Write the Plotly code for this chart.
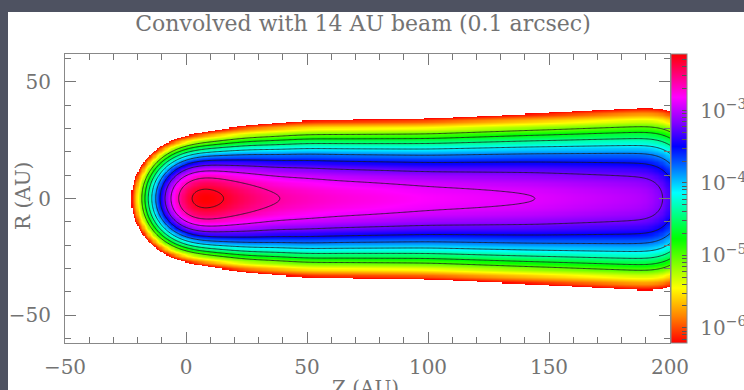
import numpy as np
import plotly.graph_objects as go

# ---- values ----
# on-axis (R=0) log10 intensity of the jet model before beam smoothing along Z
source_z = [0, 5, 10, 20, 36, 60, 100, 144, 190, 200]
source_log_axis = [-2.05, -2.11, -2.21, -2.40, -2.60, -2.72, -2.83, -2.90, -3.03, -3.08]
# intrinsic gaussian width (AU) of the jet across R, along Z
width_z = [0, 10, 25, 50, 100, 150, 200]
source_width = [2.0, 3.2, 4.8, 5.9, 6.4, 7.4, 8.6]
beam_fwhm = 14.0  # AU (0.1 arcsec)

# contour levels: factor-of-2 steps below 5e-3
contour_top = 5e-3
contour_factor = 2.0
n_contours = 10

# colour-bar (log10 intensity) range and labels
log_range = [-6.21, -2.22]
cbar_decades = [-6, -5, -4, -3]
cbar_labels = ["10<sup>−6</sup>", "10<sup>−5</sup>", "10<sup>−4</sup>", "10<sup>−3</sup>"]

x_ticks = [-50, 0, 50, 100, 150, 200]
y_ticks = [-50, 0, 50]
title_text = "Convolved with 14 AU beam (0.1 arcsec)"

# ---- build the convolved map ----
sb = beam_fwhm / (2.0 * np.sqrt(2.0 * np.log(2.0)))
dzs = 0.25
zs = np.arange(0, 200 + 1e-9, dzs)
B = 10 ** np.interp(zs, source_z, source_log_axis)
w = np.interp(zs, width_z, source_width)
sR = np.sqrt(w ** 2 + sb ** 2)
zg = np.arange(-50, 200 + 1e-9, 0.5)
Rg = np.arange(-62, 62 + 1e-9, 0.5)
F = B[:, None] * np.exp(-Rg[None, :] ** 2 / (2 * sR[:, None] ** 2))
K = np.exp(-(zg[:, None] - zs[None, :]) ** 2 / (2 * sb ** 2)) / (np.sqrt(2 * np.pi) * sb) * dzs
I = K @ F
L = np.log10(np.maximum(I, 1e-30)).T  # rows: R, cols: Z
Lmask = np.where(L >= log_range[0], L, np.nan)

levels = [np.log10(contour_top / contour_factor ** k) for k in range(n_contours)]

colorscale = [
    [0.0, "#ff0000"], [0.09, "#ff8000"], [0.19, "#ffff00"], [0.36, "#00ff00"],
    [0.52, "#00ffff"], [0.68, "#0000ff"], [0.76, "#8000ff"], [0.85, "#ff00ff"],
    [1.0, "#ff0000"],
]

pad = "\u00a0\u200a"
cb_vals = []
cb_text = []
for d, lab in zip(cbar_decades, cbar_labels):
    cb_vals.append(d); cb_text.append(pad + lab)
for d in range(-7, -1):
    for m in range(2, 10):
        v = d + np.log10(m)
        if log_range[0] <= v <= log_range[1]:
            cb_vals.append(v); cb_text.append("")

font_family = "DejaVu Serif"
txt_col = "#737373"

fig = go.Figure()
fig.add_trace(go.Heatmap(
    x=zg, y=Rg, z=Lmask, zmin=log_range[0], zmax=log_range[1],
    colorscale=colorscale, zsmooth="best", hoverinfo="skip",
    colorbar=dict(
        x=1.0017, xanchor="left", xpad=0, ypad=0, y=0.5, yanchor="middle",
        len=1, lenmode="fraction", thickness=16,
        outlinecolor="#888", outlinewidth=1,
        tickvals=cb_vals, ticktext=cb_text, ticks="inside", ticklen=5,
        tickcolor="#555", tickwidth=1,
        tickfont=dict(family=font_family, size=20, color=txt_col),
    ),
))
fig.add_trace(go.Contour(
    x=zg, y=Rg, z=L, showscale=False, hoverinfo="skip",
    contours=dict(start=levels[-1] - 1e-6, end=levels[0] + 1e-6,
                  size=np.log10(contour_factor), coloring="none"),
    line=dict(color="#1a1a1a", width=0.8),
))

axis_common = dict(
    ticks="inside", ticklen=11, tickcolor="#777", tickwidth=1,
    showline=True, linecolor="#888", linewidth=1, mirror="allticks",
    showgrid=False, zeroline=False,
    tickfont=dict(family=font_family, size=20, color=txt_col),
)
fig.update_xaxes(range=[-50, 200], tickvals=x_ticks, ticklabelstandoff=6,
                 minor=dict(dtick=10, tick0=0, ticks="inside", ticklen=6, tickcolor="#777", showgrid=False),
                 **axis_common)
fig.update_yaxes(range=[-62, 62], tickvals=y_ticks, ticklabelstandoff=9,
                 minor=dict(dtick=10, tick0=0, ticks="inside", ticklen=6, tickcolor="#777", showgrid=False),
                 **axis_common)

fig.update_layout(
    width=744, height=390,
    margin=dict(l=65, r=74, t=54, b=47, autoexpand=False),
    paper_bgcolor="#4e5261", plot_bgcolor="white",
    title=dict(text=title_text, x=(363 - 65) / 605, xref="paper", xanchor="center",
               y=1 - 23 / 390, yref="container", yanchor="middle",
               font=dict(family=font_family, size=22, color=txt_col)),
    shapes=[dict(type="rect", xref="paper", yref="paper", layer="below",
                 x0=(8 - 65) / 605, x1=1.2, y0=-0.3, y1=(343 - 12) / 289,
                 fillcolor="white", line=dict(width=0))],
    annotations=[
        dict(text="R (AU)", textangle=-90, xref="paper", yref="paper",
             x=(23 - 65) / 605, y=(343 - 196) / 289, xanchor="center", yanchor="middle",
             showarrow=False, font=dict(family=font_family, size=20, color=txt_col)),
        dict(text="Z (AU)", xref="paper", yref="paper",
             x=(365 - 65) / 605, y=(343 - 374) / 289, xanchor="center", yanchor="top",
             showarrow=False, font=dict(family=font_family, size=20, color=txt_col)),
    ],
)

fig.write_html(
    "out.html",
    config={"displayModeBar": False},
    post_script="document.body.style.margin='0';document.body.style.background='#4e5261';",
)
